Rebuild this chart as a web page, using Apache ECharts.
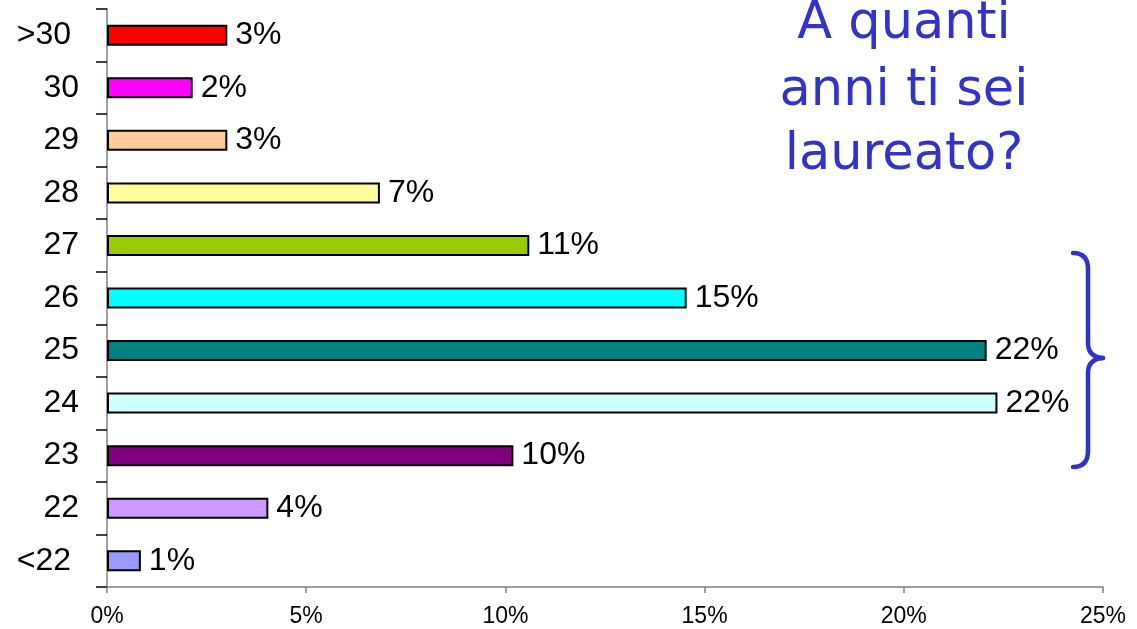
<!DOCTYPE html>
<html>
<head>
<meta charset="utf-8">
<script src="https://cdn.jsdelivr.net/npm/echarts@6/dist/echarts.min.js"></script>
<style>
  html, body { margin: 0; padding: 0; background: #fff; }
  #chart { width: 1137px; height: 629px; }
</style>
</head>
<body>
<div id="chart"></div>
<script>
// Age at graduation, listed from the top row down
const ages = ['>30', '30', '29', '28', '27', '26', '25', '24', '23', '22', '<22'];
// Share of graduates for each age (%)
const shares = [3.02, 2.15, 3.02, 6.85, 10.6, 14.55, 22.08, 22.35, 10.2, 4.05, 0.85];
const barColors = ['#FF0000', '#FF00FF', '#FFCC99', '#FFFF99', '#99CC00', '#00FFFF',
                   '#008080', '#CCFFFF', '#800080', '#CC99FF', '#9999FF'];
const xTicks = [0, 5, 10, 15, 20, 25];
const titleLines = ['A quanti', 'anni ti sei', 'laureato?'];

const chart = echarts.init(document.getElementById('chart'), null, { renderer: 'canvas' });

const labelFont = '"Liberation Sans", Arial, sans-serif';
const blue = '#3333CC';

const titleGraphics = titleLines.map((line, i) => ({
  type: 'text',
  x: 904,
  y: [25, 92, 156][i],
  style: {
    text: line,
    fill: blue,
    font: '51px "DejaVu Sans", Verdana, sans-serif',
    textAlign: 'center',
    textVerticalAlign: 'middle'
  }
}));

// curly brace grouping the 23-26 rows, built from straight and curved strokes
const braceStyle = { stroke: blue, lineWidth: 4.5, fill: null, lineCap: 'round' };
const brace = [
  { type: 'bezierCurve', shape: { x1: 1073, y1: 253, cpx1: 1088, cpy1: 253, x2: 1088, y2: 269 } },
  { type: 'line', shape: { x1: 1088, y1: 269, x2: 1088, y2: 343 } },
  { type: 'bezierCurve', shape: { x1: 1088, y1: 343, cpx1: 1088, cpy1: 357, x2: 1103, y2: 358 } },
  { type: 'bezierCurve', shape: { x1: 1103, y1: 358, cpx1: 1088, cpy1: 359, x2: 1088, y2: 373 } },
  { type: 'line', shape: { x1: 1088, y1: 373, x2: 1088, y2: 451 } },
  { type: 'bezierCurve', shape: { x1: 1088, y1: 451, cpx1: 1088, cpy1: 467, x2: 1073, y2: 467 } }
].map(g => Object.assign(g, { style: Object.assign({}, braceStyle) }));

chart.setOption({
  animation: false,
  backgroundColor: '#ffffff',
  grid: { left: 107, right: 34, top: 9, bottom: 42, containLabel: false },
  xAxis: {
    type: 'value',
    min: xTicks[0],
    max: xTicks[xTicks.length - 1],
    interval: 5,
    axisLine: { show: true, lineStyle: { color: '#808080', width: 1.5 } },
    axisTick: { show: true, length: 6, lineStyle: { color: '#808080', width: 1.5 } },
    splitLine: { show: false },
    axisLabel: {
      margin: 18,
      color: '#000',
      fontFamily: labelFont,
      fontSize: 23,
      formatter: v => v + '%'
    }
  },
  yAxis: {
    type: 'category',
    data: ages,
    inverse: true,
    axisLine: { show: true, lineStyle: { color: '#808080', width: 1.5 } },
    axisTick: { show: true, length: 11, lineStyle: { color: '#000', width: 1.5 } },
    axisLabel: {
      margin: 28,
      color: '#000',
      fontFamily: labelFont,
      fontSize: 32,
      formatter: v => (v.length > 2 ? '{wide|' + v + '}' : v),
      rich: {
        wide: { fontFamily: labelFont, fontSize: 32, color: '#000', padding: [0, 8, 0, 0] }
      }
    }
  },
  series: [{
    type: 'bar',
    data: shares.map((v, i) => ({ value: v, itemStyle: { color: barColors[i] } })),
    barWidth: 21,
    itemStyle: { borderColor: '#000', borderWidth: 2 },
    label: {
      show: true,
      position: 'right',
      distance: 8,
      color: '#000',
      fontFamily: labelFont,
      fontSize: 32,
      formatter: p => Math.round(p.value) + '%'
    }
  }],
  graphic: titleGraphics.concat(brace)
});
</script>
</body>
</html>
